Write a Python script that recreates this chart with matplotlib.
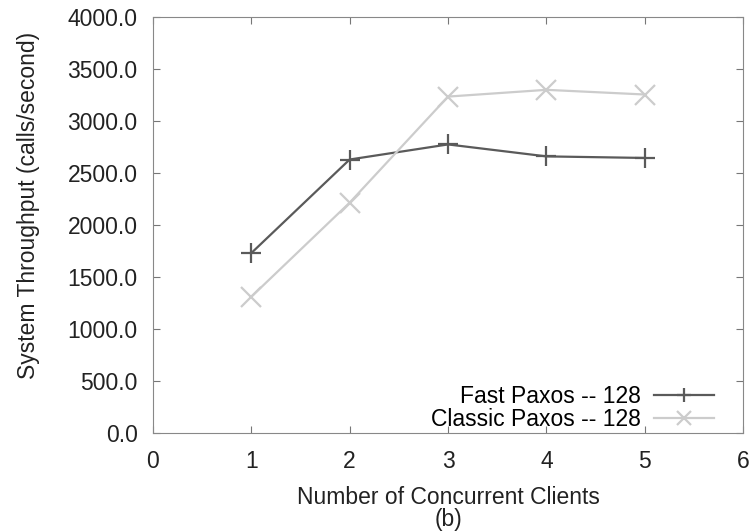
import numpy as np
from matplotlib import pyplot as plt

plt.rcParams['font.family'] = ['Liberation Sans', 'DejaVu Sans']

# Data
clients = [1, 2, 3, 4, 5]
fast_paxos = [1730, 2630, 2775, 2660, 2645]
classic_paxos = [1310, 2215, 3235, 3300, 3255]

fig = plt.figure(figsize=(7.53, 5.32), dpi=100)
ax = fig.add_axes([0.203, 0.186, 0.784, 0.782])

ax.plot(clients, fast_paxos, '-', color='#5a5a5a', lw=1.6, marker='+',
        ms=14, mew=1.6, label='Fast Paxos -- 128')
ax.plot(clients, classic_paxos, '-', color='#cccccc', lw=1.6, marker='x',
        ms=14, mew=1.6, label='Classic Paxos -- 128')

ax.set_xlim(0, 6)
ax.set_ylim(0, 4000)
ax.set_xticks(range(0, 7))
ax.set_yticks(np.arange(0, 4001, 500))
ax.set_yticklabels(['%.1f' % v for v in np.arange(0, 4001, 500)])
ax.tick_params(direction='in', top=True, right=True, labelsize=16.5,
               color='#777777', length=5, labelcolor='#222222')
ax.tick_params(axis='x', pad=12)
ax.tick_params(axis='y', pad=11)
for s in ax.spines.values():
    s.set_color('#888888')

ax.set_xlabel('Number of Concurrent Clients\n(b)', fontsize=16.5, color='#222222',
              linespacing=0.95)
ax.xaxis.set_label_coords(0.5, -0.128)
ax.set_ylabel('System Throughput (calls/second)', fontsize=16.5, color='#222222')
ax.yaxis.set_label_coords(-0.192, 0.546)

leg = ax.legend(loc='lower right', bbox_to_anchor=(0.962, -0.012),
                markerfirst=False, fontsize=16.5, frameon=False,
                borderaxespad=0.0, handlelength=2.6, borderpad=0.3,
                labelspacing=0.0, handletextpad=0.6)
for h in leg.legend_handles:
    h.set_markersize(10)

plt.savefig('out.png', dpi=100)
